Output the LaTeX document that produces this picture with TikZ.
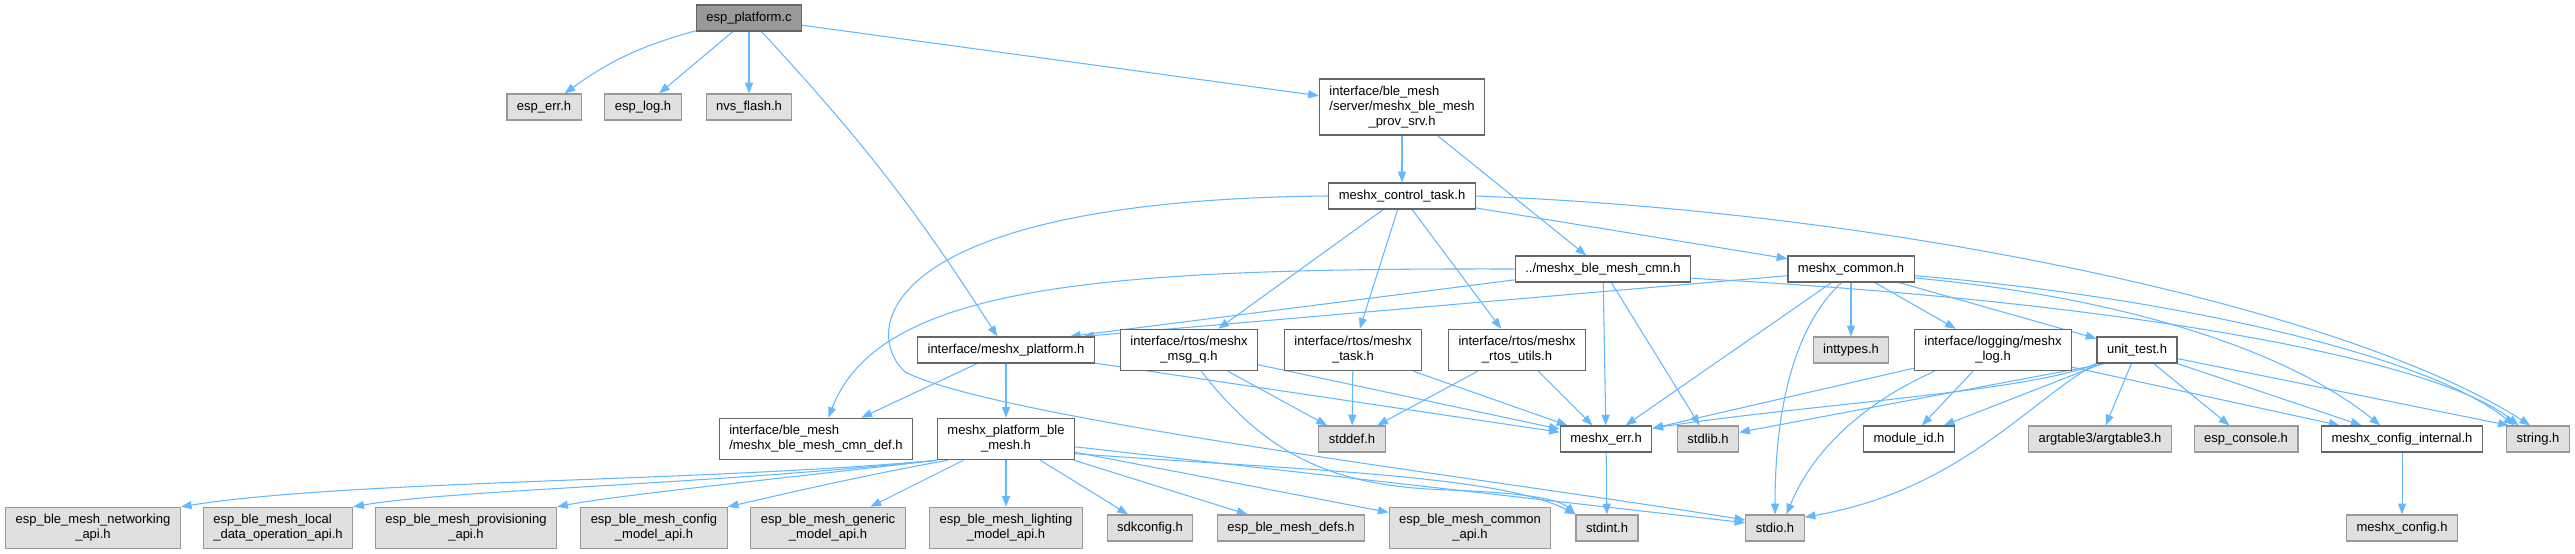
\documentclass[tikz,border=0pt]{standalone}
\usepackage{fontspec}
\setmainfont{Liberation Sans}
\usepackage{calc}
\usetikzlibrary{arrows.meta,backgrounds}
\definecolor{incl}{HTML}{63B8FF}

\begin{document}
\begin{tikzpicture}[x=0.75pt,y=-0.75pt,
    docbox/.style={draw=black!60,line width=0.9pt,fill=white,inner xsep=7.5pt,inner ysep=1pt,
        minimum height=19.5pt,font=\fontsize{9.75}{11.25}\selectfont},
    extbox/.style={docbox,draw=black!40,fill=black!12},
    rootbox/.style={docbox,fill=black!40},
    twoline/.style={minimum height=31pt,align=center},
    threeline/.style={minimum height=42pt,align=center},
    dep/.style={draw=incl,line width=0.8pt,-{Triangle[length=8pt,width=6pt]}}]
    \useasboundingbox (0,0) rectangle (2575,553);

    % files
    \node[rootbox] (root) at (749,18) {esp\_platform.c};
    \node[extbox] (esperr) at (544,107) {esp\_err.h};
    \node[extbox] (esplog) at (643,107) {esp\_log.h};
    \node[extbox] (nvs) at (749,107) {nvs\_flash.h};
    \node[docbox,threeline] (provsrv) at (1402,107)
        {\makebox[\widthof{/server/meshx\_ble\_mesh}][l]{interface/ble\_mesh}\\/server/meshx\_ble\_mesh\\\_prov\_srv.h};
    \node[docbox] (ctrl) at (1402,196) {meshx\_control\_task.h};
    \node[docbox] (cmn) at (1603,269) {../meshx\_ble\_mesh\_cmn.h};
    \node[docbox] (common) at (1851,269) {meshx\_common.h};
    \node[docbox] (mplat) at (1006,350) {interface/meshx\_platform.h};
    \node[docbox,twoline] (msgq) at (1189,350) {interface/rtos/meshx\\\_msg\_q.h};
    \node[docbox,twoline] (task) at (1353,350) {interface/rtos/meshx\\\_task.h};
    \node[docbox,twoline] (rutils) at (1517,350) {interface/rtos/meshx\\\_rtos\_utils.h};
    \node[extbox] (inttypes) at (1851,350) {inttypes.h};
    \node[docbox,twoline] (log) at (1993,350) {interface/logging/meshx\\\_log.h};
    \node[docbox] (ut) at (2137,350) {unit\_test.h};
    \node[docbox,twoline,align=left] (cmndef) at (816,439) {interface/ble\_mesh\\/meshx\_ble\_mesh\_cmn\_def.h};
    \node[docbox,twoline] (blemesh) at (1006,439) {meshx\_platform\_ble\\\_mesh.h};
    \node[extbox] (stddef) at (1352,439) {stddef.h};
    \node[docbox] (err) at (1606,439) {meshx\_err.h};
    \node[extbox] (stdlib) at (1708,439) {stdlib.h};
    \node[docbox] (modid) at (1909,439) {module\_id.h};
    \node[extbox] (argt) at (2100,439) {argtable3/argtable3.h};
    \node[extbox] (console) at (2246,439) {esp\_console.h};
    \node[docbox] (cfgint) at (2402,439) {meshx\_config\_internal.h};
    \node[extbox] (string) at (2538,439) {string.h};
    \node[extbox,twoline] (net) at (93,528) {esp\_ble\_mesh\_networking\\\_api.h};
    \node[extbox,twoline,align=left] (local) at (278,528) {esp\_ble\_mesh\_local\\\_data\_operation\_api.h};
    \node[extbox,twoline] (prov) at (466,528) {esp\_ble\_mesh\_provisioning\\\_api.h};
    \node[extbox,twoline] (cfgmodel) at (654,528) {esp\_ble\_mesh\_config\\\_model\_api.h};
    \node[extbox,twoline] (generic) at (828,528) {esp\_ble\_mesh\_generic\\\_model\_api.h};
    \node[extbox,twoline] (light) at (1006,528) {esp\_ble\_mesh\_lighting\\\_model\_api.h};
    \node[extbox] (sdk) at (1150,528) {sdkconfig.h};
    \node[extbox] (defs) at (1291,528) {esp\_ble\_mesh\_defs.h};
    \node[extbox,twoline] (capi) at (1470,528) {esp\_ble\_mesh\_common\\\_api.h};
    \node[extbox] (stdint) at (1607,528) {stdint.h};
    \node[extbox] (stdio) at (1775,528) {stdio.h};
    \node[extbox] (mcfg) at (2402,528) {meshx\_config.h};

    % includes
    \begin{scope}[on background layer]
    \draw[dep] (root) to[bend right=10] (esperr);
    \draw[dep] (root) -- (esplog);
    \draw[dep] (root) -- (nvs);
    \draw[dep] (root) to[bend left=5] (mplat);
    \draw[dep] (root) -- (provsrv);

    \draw[dep] (provsrv) -- (ctrl);
    \draw[dep] (provsrv) -- (cmn);

    \draw[dep] (ctrl.west) .. controls (880,200) and (860,330) .. (905,372)
        .. controls (1000,420) and (1500,480) .. (stdio.165);
    \draw[dep] (ctrl.east) .. controls (1900,212) and (2350,310) .. (string.120);
    \draw[dep] (ctrl) -- (common);
    \draw[dep] (ctrl) -- (msgq);
    \draw[dep] (ctrl) -- (task);
    \draw[dep] (ctrl) -- (rutils);

    \draw[dep] (cmn.187) -- (mplat.12);
    \draw[dep] (cmn.west) .. controls (1100,268) and (880,285) .. (cmndef.60);
    \draw[dep] (cmn) -- (err);
    \draw[dep] (cmn) -- (stdlib);
    \draw[dep] (cmn.-6) .. controls (2100,300) and (2430,355) .. (string.145);

    \draw[dep] (common.186) -- (mplat.10);
    \draw[dep] (common) -- (err);
    \draw[dep] (common.235) .. controls (1790,330) and (1775,420) .. (stdio.north);
    \draw[dep] (common) -- (inttypes);
    \draw[dep] (common) -- (log);
    \draw[dep] (common) -- (ut);
    \draw[dep] (common.-8) .. controls (2150,300) and (2300,360) .. (cfgint.148);
    \draw[dep] (common.-6) .. controls (2150,295) and (2420,350) .. (string.150);

    \draw[dep] (mplat) -- (cmndef);
    \draw[dep] (mplat) -- (blemesh);
    \draw[dep] (mplat) -- (err);

    \draw[dep] (msgq) -- (stddef);
    \draw[dep] (msgq.-60) .. controls (1270,460) and (1340,487) .. (1450,490)
        .. controls (1530,493) and (1560,500) .. (stdint.north west);
    \draw[dep] (msgq) -- (err);
    \draw[dep] (task) -- (stddef);
    \draw[dep] (task) -- (err);
    \draw[dep] (rutils) -- (stddef);
    \draw[dep] (rutils) -- (err);

    \draw[dep] (log) -- (err);
    \draw[dep] (log) -- (modid);
    \draw[dep] (log.200) .. controls (1870,400) and (1815,445) .. (stdio.50);
    \draw[dep] (log) -- (cfgint);

    \draw[dep] (ut.south west) .. controls (2030,392) and (1800,405) .. (err.13);
    \draw[dep] (ut.203) -- (stdlib.12);
    \draw[dep] (ut) -- (modid);
    \draw[dep] (ut.south west) .. controls (2030,400) and (1960,490) .. (stdio.20);
    \draw[dep] (ut) -- (argt);
    \draw[dep] (ut) -- (console);
    \draw[dep] (ut) -- (cfgint);
    \draw[dep] (ut.-12) -- (string.155);

    \draw[dep] (err) -- (stdint);
    \draw[dep] (cfgint) -- (mcfg);

    \draw[dep] (blemesh.south west) .. controls (700,482) and (350,480) .. (net.north east);
    \draw[dep] (blemesh.south west) .. controls (700,485) and (450,490) .. (local.north east);
    \draw[dep] (blemesh.south west) .. controls (750,482) and (620,495) .. (prov.north east);
    \draw[dep] (blemesh.200) .. controls (850,478) and (780,495) .. (cfgmodel.north east);
    \draw[dep] (blemesh) -- (generic);
    \draw[dep] (blemesh) -- (light);
    \draw[dep] (blemesh) -- (sdk);
    \draw[dep] (blemesh) -- (defs);
    \draw[dep] (blemesh) -- (capi);
    \draw[dep] (blemesh.-12) .. controls (1300,470) and (1500,475) .. (stdint.north west);
    \draw[dep] (blemesh) -- (stdio.170);
    \end{scope}
\end{tikzpicture}
\end{document}
